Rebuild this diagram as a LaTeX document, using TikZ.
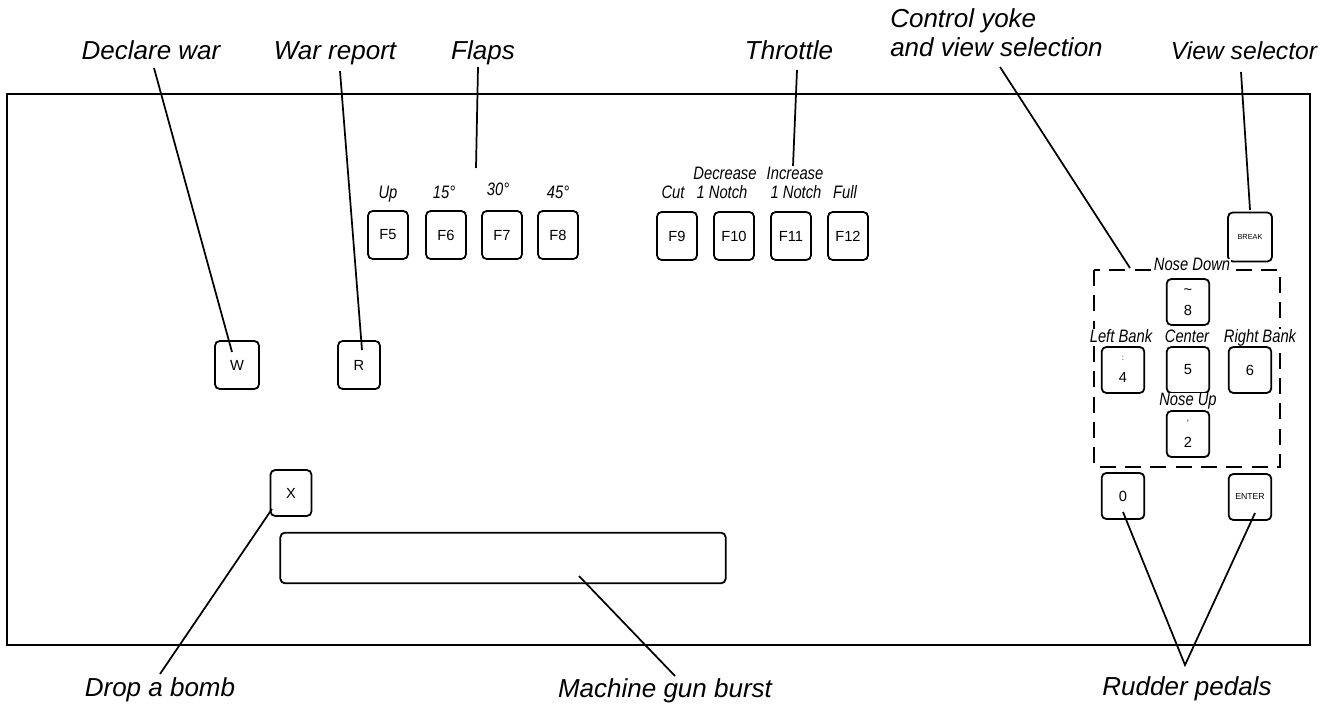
\documentclass[tikz,border=0pt]{standalone}
\usepackage{fontspec}
\setmainfont{Liberation Sans}
\newfontfamily\callfont{Liberation Sans}
\newfontfamily\condfont[FakeStretch=0.82]{Liberation Sans}
\begin{document}
\begin{tikzpicture}[x=0.75pt,y=-0.75pt,
  keybox/.style={draw,line width=1.35pt,rounded corners=3.5pt,minimum width=31.5pt,minimum height=36pt,inner sep=0pt,font=\fontsize{11}{13}\selectfont},
  fkey/.style={keybox,minimum width=30pt},
  numkey/.style={keybox,minimum width=32pt,minimum height=34.5pt},
  keytxt/.style={inner sep=0pt,font=\fontsize{11}{13}\selectfont},
  call/.style={font=\callfont\itshape\fontsize{19.5}{22}\selectfont,anchor=base,inner sep=0pt},
  small/.style={font=\condfont\itshape\fontsize{13.5}{15}\selectfont,anchor=base,inner sep=0pt},
  padlbl/.style={small,fill=white,inner xsep=1pt},
  lead/.style={line width=1.3pt}]
\useasboundingbox (0,0) rectangle (1328,709);
% outer frame
\draw[line width=1.8pt] (7,94) rectangle (1310,645);
% keys
\node[keybox,minimum width=33pt] (kW) at (237,365) {W};
\node[keybox] (kR) at (359,365) {R};
\node[keybox,minimum width=30.75pt,minimum height=34.5pt] (kX) at (291,493) {X};
\node[keybox,minimum width=334pt,minimum height=38pt] (space) at (503,558) {};
\node[fkey] (F5) at (388,235) {F5};
\node[fkey] (F6) at (446,235) {F6};
\node[fkey] (F7) at (502,235) {F7};
\node[fkey] (F8) at (558,235) {F8};
\node[fkey] (F9) at (677,236) {F9};
\node[fkey] (F10) at (734,236) {F10};
\node[fkey] (F11) at (791,236) {F11};
\node[fkey] (F12) at (848,236) {F12};
% F key labels
\node[small] (lUp) at (388,199) {Up};
\node[small] (l15) at (444,199) {15°};
\node[small] (l30) at (498,196) {30°};
\node[small] (l45) at (558,199) {45°};
\node[small] (lCut) at (673,199) {Cut};
\node[small] (lDec) at (725,180) {Decrease};
\node[small] (lDecN) at (722,199) {1 Notch};
\node[small] (lInc) at (795,180) {Increase};
\node[small] (lIncN) at (796,199) {1 Notch};
\node[small] (lFull) at (845,199) {Full};
% keypad
\node[keybox,minimum width=33pt,minimum height=36.75pt,font=\fontsize{5.5}{6}\selectfont] (kBrk) at (1250,237) {BREAK};
\draw[line width=1.4pt,dash pattern=on 12pt off 7pt] (1094,270) rectangle (1280,467);
\node[numkey] (k8) at (1188,302) {};
\node[keytxt] (k8a) at (1188,292) {\textasciitilde};
\node[keytxt] (k8b) at (1188,310) {8};
\node[numkey] (k4) at (1123,370) {};
\node[keytxt,font=\fontsize{6}{6}\selectfont] (k4a) at (1123,358) {:};
\node[keytxt] (k4b) at (1123,377) {4};
\node[numkey] (k5) at (1188,370) {5};
\node[numkey] (k6) at (1250,370) {6};
\node[numkey] (k2) at (1188,434) {};
\node[keytxt,font=\fontsize{7}{7}\selectfont] (k2a) at (1188,423) {'};
\node[keytxt] (k2b) at (1188,442) {2};
\node[numkey] (k0) at (1123,496) {0};
\node[numkey,font=\fontsize{6.5}{7}\selectfont] (kEnt) at (1250,497) {ENTER};
\node[padlbl] (lND) at (1192,271) {Nose Down};
\node[padlbl] (lLB) at (1121,342) {Left Bank};
\node[padlbl] (lC) at (1187,342) {Center};
\node[padlbl] (lRB) at (1260,342) {Right Bank};
\node[padlbl] (lNU) at (1188,405) {Nose Up};
% callout labels
\node[call] (tDW) at (151,60) {Declare war};
\node[call] (tWR) at (335,60) {War report};
\node[call] (tFl) at (483,60) {Flaps};
\node[call] (tTh) at (789,60) {Throttle};
\node[call,anchor=base west] (tCY1) at (890,28) {Control yoke};
\node[call,anchor=base west] (tCY2) at (890,57) {and view selection};
\node[call,font=\callfont\itshape\fontsize{18.5}{22}\selectfont] (tVS) at (1244,60) {View selector};
\node[call] (tDB) at (160,696) {Drop a bomb};
\node[call] (tMG) at (665,697) {Machine gun burst};
\node[call] (tRP) at (1187,695) {Rudder pedals};
% leader ends
\coordinate (dwS) at (154,68);  \coordinate (dwE) at (232,352);
\coordinate (wrS) at (340,71);  \coordinate (wrE) at (362,350);
\coordinate (flS) at (478,67);  \coordinate (flE) at (476,168);
\coordinate (thS) at (797,70);  \coordinate (thE) at (793,166);
\coordinate (cyS) at (1000,67); \coordinate (cyE) at (1130,268);
\coordinate (vsS) at (1241,72); \coordinate (vsE) at (1250,210);
\coordinate (dbS) at (160,674); \coordinate (dbE) at (272,509);
\coordinate (mgS) at (675,676); \coordinate (mgE) at (579,576);
\coordinate (rpA) at (1185,665);
\coordinate (rp0) at (1123,512); \coordinate (rpE) at (1255,513);
\draw[lead] (dwS) -- (dwE);
\draw[lead] (wrS) -- (wrE);
\draw[lead] (flS) -- (flE);
\draw[lead] (thS) -- (thE);
\draw[lead] (cyS) -- (cyE);
\draw[lead] (vsS) -- (vsE);
\draw[lead] (dbS) -- (dbE);
\draw[lead] (mgS) -- (mgE);
\draw[lead,line join=miter] (rp0) -- (rpA) -- (rpE);
\end{tikzpicture}
\end{document}
